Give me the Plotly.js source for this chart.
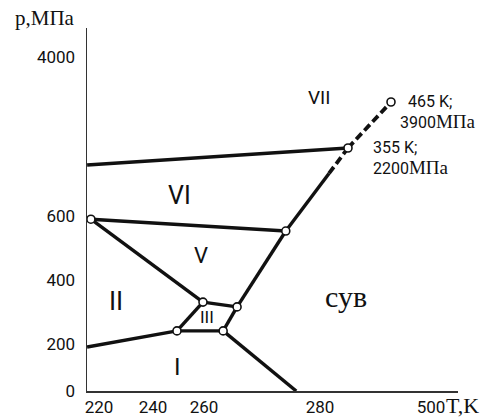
<!DOCTYPE html>
<html>
<head>
<meta charset="utf-8">
<script src="https://cdn.plot.ly/plotly-3.0.1.min.js"></script>
<style>html,body{margin:0;padding:0;background:#fff;}#chart{width:492px;height:417px;}</style>
</head>
<body>
<div id="chart"></div>
<script>
// ---- Data (temperature T in K, pressure p in MPa) ----
const xTickLabels = [220, 240, 260, 280, 500];
const yTickLabels = [0, 200, 400, 600, 4000];

const tripleNames = ['II-V-VI', 'II-III-V', 'III-V-L', 'I-II-III', 'I-III-L', 'V-VI-L', 'VI-VII-L', 'VII-L'];
const tripleT = [217.0, 259.6, 265.7, 249.4, 263.3, 274.1, 355, 465];
const tripleP = [590, 331, 316, 241, 241, 553, 2200, 3900];

const bI_II_T = [215.6, 249.4];   const bI_II_p = [187, 241];
const bII_III_T = [249.4, 259.6]; const bII_III_p = [241, 331];
const bII_V_T = [217.0, 259.6];   const bII_V_p = [590, 331];
const bIII_V_T = [259.6, 265.7];  const bIII_V_p = [331, 316];
const bI_III_T = [249.4, 263.3];  const bI_III_p = [241, 241];
const bIII_L_T = [263.3, 265.7];  const bIII_L_p = [241, 316];
const bI_L_T = [263.3, 275.9];    const bI_L_p = [241, 0];
const bV_L_T = [265.7, 274.1];    const bV_L_p = [316, 553];
const bV_VI_T = [217.0, 274.1];   const bV_VI_p = [590, 553];
const bVI_L_T = [274.1, 304.1];   const bVI_L_p = [553, 1602];
const bVI_Ld_T = [304.1, 355];    const bVI_Ld_p = [1602, 2200];
const bVI_VII_T = [215.6, 355];   const bVI_VII_p = [1800, 2200];
const bVII_L_T = [355, 465];      const bVII_L_p = [2200, 3900];

// ---- Schematic axis warping (anchor values -> plot units) ----
const xAnchorVal = [220, 240, 260, 280, 355, 465, 500];
const xAnchorPos = [12, 66, 117, 233, 261, 304, 344];
const yAnchorVal = [0, 200, 400, 600, 2200, 3900, 4000];
const yAnchorPos = [0, 47, 111, 175, 243, 289, 334];

function warp(v, a, b) {
  let i = 0;
  if (v <= a[0]) i = 0;
  else if (v >= a[a.length - 1]) i = a.length - 2;
  else { while (v > a[i + 1]) i++; }
  return b[i] + (v - a[i]) * (b[i + 1] - b[i]) / (a[i + 1] - a[i]);
}
const wx = arr => arr.map(v => warp(v, xAnchorVal, xAnchorPos));
const wy = arr => arr.map(v => warp(v, yAnchorVal, yAnchorPos));

const sans = "Roboto, 'Liberation Sans', sans-serif";
const serif = "'Liberation Serif', 'DejaVu Serif', 'Times New Roman', serif";

const solid = [
  [bI_II_T, bI_II_p], [bII_III_T, bII_III_p], [bII_V_T, bII_V_p], [bIII_V_T, bIII_V_p],
  [bI_III_T, bI_III_p], [bIII_L_T, bIII_L_p], [bI_L_T, bI_L_p], [bV_L_T, bV_L_p],
  [bV_VI_T, bV_VI_p], [bVI_L_T, bVI_L_p], [bVI_VII_T, bVI_VII_p]
];
const dashed = [[bVI_Ld_T, bVI_Ld_p], [bVII_L_T, bVII_L_p]];

const traces = [];
solid.forEach(([T, p]) => traces.push({
  x: wx(T), y: wy(p), mode: 'lines', type: 'scatter',
  line: {color: '#111', width: 3.4}, hoverinfo: 'skip', showlegend: false
}));
dashed.forEach(([T, p]) => traces.push({
  x: wx(T), y: wy(p), mode: 'lines', type: 'scatter',
  line: {color: '#111', width: 3.8, dash: '8px,4px'}, hoverinfo: 'skip', showlegend: false
}));
traces.push({
  x: wx(tripleT), y: wy(tripleP), text: tripleNames, mode: 'markers', type: 'scatter',
  marker: {symbol: 'circle', size: 8, color: '#fff', line: {color: '#111', width: 1.6}},
  showlegend: false
});

function lab(text, x, y, size, font, xanchor, ref) {
  return {text: text, x: x, y: y, xref: ref || 'x', yref: ref || 'y', showarrow: false,
          xanchor: xanchor || 'center', yanchor: 'middle', align: 'left',
          font: {family: font, size: size, color: '#111'}};
}
const mpa = "<span style='font-family:\"Liberation Serif\",serif;font-size:19px'>МПа</span>";

const annotations = [
  lab('VII', 232, 294, 19, sans),
  lab('VI', 92, 196, 25, sans),
  lab('V', 114, 136, 22, sans),
  lab('II', 29, 90, 26, sans),
  lab('III', 120, 74, 17, sans),
  lab('I', 90, 24, 24, sans),
  lab('сув', 259, 95, 30, serif),
  lab('&nbsp;&nbsp;465 K;<br>3900' + mpa, 311, 279, 16, sans, 'left'),
  lab('355 K;<br>2200' + mpa, 284, 233, 16, sans, 'left'),
  lab('p,МПа', -74 / 371, 373 / 363, 21, serif, 'left', 'paper'),
  lab('T,K', 357 / 371, -14 / 363, 22, serif, 'left', 'paper')
];

const layout = {
  width: 492, height: 417,
  margin: {l: 87, r: 34, t: 28, b: 26, pad: 0},
  paper_bgcolor: '#fff', plot_bgcolor: '#fff',
  showlegend: false,
  xaxis: {
    range: [0, 371], showgrid: false, zeroline: false,
    showline: true, linecolor: '#333', linewidth: 1.5,
    tickmode: 'array', tickvals: wx(xTickLabels), ticktext: xTickLabels.map(String),
    ticks: '', ticklabelstandoff: 0,
    tickfont: {family: sans, size: 17, color: '#111'}, fixedrange: true
  },
  yaxis: {
    range: [0, 363], showgrid: false, zeroline: false,
    showline: true, linecolor: '#333', linewidth: 1.5,
    tickmode: 'array', tickvals: wy(yTickLabels), ticktext: yTickLabels.map(String),
    ticks: '', ticklabelstandoff: 7,
    tickfont: {family: sans, size: 17, color: '#111'}, fixedrange: true
  },
  annotations: annotations
};

Plotly.newPlot('chart', traces, layout, {staticPlot: true, displayModeBar: false});
</script>
</body>
</html>
